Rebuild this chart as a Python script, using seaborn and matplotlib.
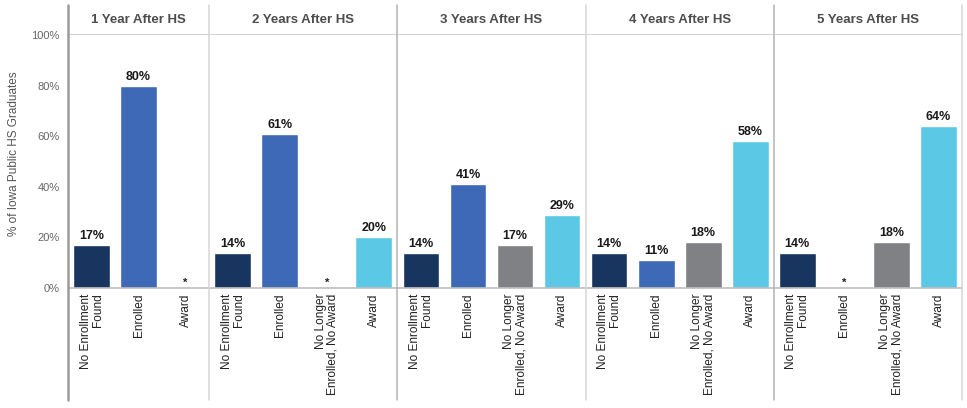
import matplotlib

matplotlib.use('Agg')

import matplotlib.pyplot as plt
from matplotlib.lines import Line2D
import seaborn as sns
import pandas as pd
import numpy as np

# data (None = suppressed, shown as *)
panels = ['1 Year After HS', '2 Years After HS', '3 Years After HS',
          '4 Years After HS', '5 Years After HS']
status = ['No Enrollment\nFound', 'Enrolled', 'No Longer\nEnrolled, No Award', 'Award']
cats_1yr = ['No Enrollment\nFound', 'Enrolled', 'Award']
no_enroll = [17, 14, 14, 14, 14]
enrolled = [80, 61, 41, 11, None]
no_longer = [None, None, 17, 18, 18]
award = [None, 20, 29, 58, 64]

colors = {'No Enrollment\nFound': '#17355f',
          'Enrolled': '#3d69b7',
          'No Longer\nEnrolled, No Award': '#808184',
          'Award': '#5bc8e6'}

sns.set_style('white')
plt.rcParams['font.family'] = ['Liberation Sans', 'DejaVu Sans']

fig = plt.figure(figsize=(9.67, 4.08), dpi=100)
W, H = 967.0, 408.0
left, right = 68 / W, 962 / W
bot, top = 1 - 288 / H, 1 - 35 / H
htop = 1 - 5 / H
gs = fig.add_gridspec(2, 5, width_ratios=[3, 4, 4, 4, 4], height_ratios=[htop - top, top - bot],
                      left=left, right=right, bottom=bot, top=htop, wspace=0, hspace=0)

line_col = '#d6d6d6'
mid_col = '#b4b4b4'
div_cols = ['#9c9c9c', line_col, mid_col, line_col, mid_col]
for i, name in enumerate(panels):
    cats = cats_1yr if i == 0 else status
    vals = {'No Enrollment\nFound': no_enroll[i], 'Enrolled': enrolled[i],
            'No Longer\nEnrolled, No Award': no_longer[i], 'Award': award[i]}
    df = pd.DataFrame({'cat': cats, 'val': [vals[c] if vals[c] is not None else 0 for c in cats]})

    hax = fig.add_subplot(gs[0, i])
    hax.set_xticks([])
    hax.set_yticks([])
    for s in hax.spines.values():
        s.set_visible(False)
    hax.spines['bottom'].set_visible(True)
    hax.spines['bottom'].set_color('#cfcfcf')
    hax.spines['bottom'].set_linewidth(1.3)
    hax.text(0.5, 0.5, name, ha='center', va='center', fontsize=9.5, fontweight='bold',
             color='#4d4d4d', transform=hax.transAxes)

    ax = fig.add_subplot(gs[1, i])
    sns.barplot(data=df, x='cat', y='val', hue='cat', order=cats, hue_order=cats,
                palette=colors, dodge=False, width=0.78, saturation=1, legend=False, ax=ax)
    ax.set_ylim(0, 100)
    ax.set_xlim(-0.5, len(cats) - 0.5)
    ax.set_xlabel('')
    ax.set_ylabel('')
    for j, c in enumerate(cats):
        v = vals[c]
        if v is None:
            ax.text(j, 2.0, '*', ha='center', va='center', fontsize=8, fontweight='bold', color='#222222')
        else:
            ax.text(j, v + 1.2, '%d%%' % v, ha='center', va='bottom', fontsize=9,
                    fontweight='bold', color='#1a1a1a')
    ax.set_xticks(range(len(cats)))
    ax.set_xticklabels(cats, rotation=90, fontsize=8.6, color='#222222', ha='center',
                       va='top', multialignment='right', linespacing=1.0)
    ax.tick_params(axis='x', length=0, pad=4)
    for s in ['top', 'right']:
        ax.spines[s].set_visible(False)
    ax.spines['left'].set_visible(False)
    ax.spines['bottom'].set_color('#bdbdbd')
    ax.spines['bottom'].set_linewidth(1.2)
    if i == 0:
        ax.set_yticks([0, 20, 40, 60, 80, 100])
        ax.set_yticklabels(['0%', '20%', '40%', '60%', '80%', '100%'], fontsize=8, color='#666666')
        ax.tick_params(axis='y', length=4, width=0.8, color='#bdbdbd', pad=2, direction='out')
        ax.set_ylabel('% of Iowa Public HS Graduates', fontsize=8.5, color='#555555')
        ax.yaxis.set_label_coords(-0.34, 0.53)
    else:
        ax.set_yticks([])

    # panel divider lines through header, plot and label area
    x0 = ax.get_position().x0
    lw = 1.8 if i == 0 else 1.1
    fig.add_artist(Line2D([x0, x0], [1 - 400 / H, htop], transform=fig.transFigure,
                          color=div_cols[i], linewidth=lw))
    if i == len(panels) - 1:
        x1 = ax.get_position().x1
        fig.add_artist(Line2D([x1, x1], [1 - 400 / H, htop], transform=fig.transFigure,
                              color=line_col, linewidth=1.1))

fig.savefig('out.png', dpi=100)
